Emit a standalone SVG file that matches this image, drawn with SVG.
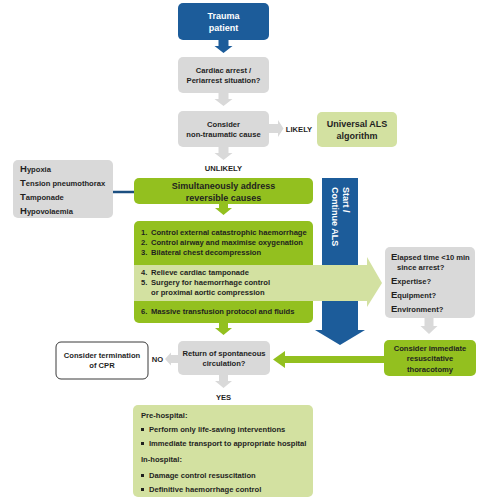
<svg xmlns="http://www.w3.org/2000/svg" width="492" height="502" viewBox="0 0 492 502">
<style>
.t{font-family:"Liberation Sans",Arial,sans-serif;font-weight:bold;fill:#1f1f1f}
.c{text-anchor:middle}
.w{fill:#ffffff}
.gray{fill:#d9d9d9}
.green{fill:#93c01f}
.lgreen{fill:#d3e1a1}
.blue{fill:#1c5c9a}
.s75{font-size:7.6px}
.s8{font-size:8px}
.s9{font-size:9px}
.big{font-size:9.8px}
</style>
<rect width="492" height="502" fill="#ffffff"/>
<g id="connectors">
  <polygon class="blue" points="218.5,40 228.5,40 228.5,46 232.5,46 223.5,53 214.5,46 218.5,46"/>
  <polygon class="gray" points="218.5,93 228.5,93 228.5,99 232.5,99 223.5,106 214.5,99 218.5,99"/>
  <polygon class="gray" points="269,124 278,124 278,120 283.5,128.5 278,137 278,133 269,133"/>
  <polygon class="gray" points="218.5,147 228.5,147 228.5,153 232.5,153 223.5,160 214.5,153 218.5,153"/>
  <line x1="113" y1="192" x2="135" y2="192" stroke="#1c4f80" stroke-width="2.5"/>
  <polygon class="green" points="219,204 228,204 228,208 232,208 223.5,215 215,208 219,208"/>
  <polygon class="blue" points="322,178 358,178 358,330 365,330 340,345 315,330 322,330"/>
  <polygon class="lgreen" points="134,265 367,265 367,257 382,283 367,307 367,301 134,301"/>
  <polygon class="gray" points="424.5,318 433.5,318 433.5,326 437.5,326 429,334 420.5,326 424.5,326"/>
  <polygon class="green" points="219,323 228,323 228,328 232,328 223.5,335 215,328 219,328"/>
  <polygon class="green" points="384,356 285,356 285,351 273,359.5 285,368 285,363 384,363"/>
  <polygon class="gray" points="178,355 171,355 171,352.5 165,359 171,365.5 171,363 178,363"/>
  <polygon class="gray" points="219,375 228,375 228,381 232,381 223.5,388 215,381 219,381"/>
  <text class="t s75 c" x="299" y="131.5">LIKELY</text>
  <text class="t s75 c" x="223.5" y="171">UNLIKELY</text>
  <text class="t s75 c" x="157.5" y="362">NO</text>
  <text class="t s75 c" x="223.5" y="400">YES</text>
</g>
<g id="trauma">
  <rect class="blue" x="178" y="3" width="91" height="37" rx="5"/>
  <text class="t s9 c w" x="223.5" y="19">Trauma</text>
  <text class="t s9 c w" x="223.5" y="31">patient</text>
</g>
<g id="cardiac">
  <rect class="gray" x="178" y="57" width="91" height="36" rx="5"/>
  <text class="t s75 c" x="223.5" y="72.5">Cardiac arrest /</text>
  <text class="t s75 c" x="223.5" y="83">Periarrest situation?</text>
</g>
<g id="nontraumatic">
  <rect class="gray" x="178" y="111" width="91" height="36" rx="5"/>
  <text class="t s75 c" x="223.5" y="126.5">Consider</text>
  <text class="t s75 c" x="223.5" y="137">non-traumatic cause</text>
</g>
<g id="als">
  <rect class="lgreen" x="317" y="112" width="80" height="35" rx="5"/>
  <text class="t s9 c" x="357" y="127">Universal ALS</text>
  <text class="t s9 c" x="357" y="138.5">algorithm</text>
</g>
<g id="causes">
  <rect class="gray" x="13" y="160" width="100" height="58" rx="5"/>
  <text class="t s75" x="20" y="172"><tspan font-size="9.5px">H</tspan>ypoxia</text>
  <text class="t s75" x="20" y="186"><tspan font-size="9.5px">T</tspan>ension pneumothorax</text>
  <text class="t s75" x="20" y="200"><tspan font-size="9.5px">T</tspan>amponade</text>
  <text class="t s75" x="20" y="214"><tspan font-size="9.5px">H</tspan>ypovolaemia</text>
</g>
<g id="address">
  <rect class="green" x="134" y="178" width="179" height="26" rx="5"/>
  <text class="t s9 c" x="223.5" y="189">Simultaneously address</text>
  <text class="t s9 c" x="223.5" y="200.5">reversible causes</text>
</g>
<g id="actions">
  <path class="green" d="M139,221 H308 A5,5 0 0 1 313,226 V265 H134 V226 A5,5 0 0 1 139,221 Z"/>
  <path class="green" d="M134,301 H313 V318 A5,5 0 0 1 308,323 H139 A5,5 0 0 1 134,318 Z"/>
  <text class="t s75" x="141" y="235">1.</text><text class="t s75" x="151" y="235">Control external catastrophic haemorrhage</text>
  <text class="t s75" x="141" y="245">2.</text><text class="t s75" x="151" y="245">Control airway and maximise oxygenation</text>
  <text class="t s75" x="141" y="255">3.</text><text class="t s75" x="151" y="255">Bilateral chest decompression</text>
  <text class="t s75" x="141" y="275">4.</text><text class="t s75" x="151" y="275">Relieve cardiac tamponade</text>
  <text class="t s75" x="141" y="285">5.</text><text class="t s75" x="151" y="285">Surgery for haemorrhage control</text>
  <text class="t s75" x="151" y="295">or proximal aortic compression</text>
  <text class="t s75" x="141" y="314">6.</text><text class="t s75" x="151" y="314">Massive transfusion protocol and fluids</text>
</g>
<g id="startals">
  <text class="t s9 w" transform="translate(343,187) rotate(90)">Start /</text>
  <text class="t s9 w" transform="translate(332,187) rotate(90)">Continue ALS</text>
</g>
<g id="elapsed">
  <rect class="gray" x="385" y="247" width="90" height="71" rx="5"/>
  <text class="t s75" x="391" y="260"><tspan font-size="9.5px">E</tspan>lapsed time &lt;10 min</text>
  <text class="t s75" x="397" y="270">since arrest?</text>
  <text class="t s75" x="391" y="284"><tspan font-size="9.5px">E</tspan>xpertise?</text>
  <text class="t s75" x="391" y="298"><tspan font-size="9.5px">E</tspan>quipment?</text>
  <text class="t s75" x="391" y="312"><tspan font-size="9.5px">E</tspan>nvironment?</text>
</g>
<g id="thoracotomy">
  <rect class="green" x="384" y="340" width="92" height="36" rx="5"/>
  <text class="t s75 c" x="430" y="351">Consider immediate</text>
  <text class="t s75 c" x="430" y="361">resuscitative</text>
  <text class="t s75 c" x="430" y="371.5">thoracotomy</text>
</g>
<g id="rosc">
  <rect class="gray" x="178" y="341" width="92" height="34" rx="5"/>
  <text class="t s75 c" x="224" y="355.5">Return of spontaneous</text>
  <text class="t s75 c" x="224" y="366">circulation?</text>
</g>
<g id="termination">
  <rect x="56" y="342" width="92" height="37" rx="5" fill="#ffffff" stroke="#3a3a3a" stroke-width="1"/>
  <text class="t s75 c" x="102" y="357.5">Consider termination</text>
  <text class="t s75 c" x="102" y="368">of CPR</text>
</g>
<g id="outcome">
  <rect class="lgreen" x="133" y="405" width="180" height="92" rx="5"/>
  <text class="t s75" x="141" y="418">Pre-hospital:</text>
  <rect x="141" y="428" width="3" height="3" fill="#1f1f1f"/>
  <text class="t s75" x="149" y="432">Perform only life-saving interventions</text>
  <rect x="141" y="442" width="3" height="3" fill="#1f1f1f"/>
  <text class="t s75" x="149" y="446">Immediate transport to appropriate hospital</text>
  <text class="t s75" x="141" y="462">In-hospital:</text>
  <rect x="141" y="474" width="3" height="3" fill="#1f1f1f"/>
  <text class="t s75" x="149" y="478">Damage control resuscitation</text>
  <rect x="141" y="488" width="3" height="3" fill="#1f1f1f"/>
  <text class="t s75" x="149" y="492">Definitive haemorrhage control</text>
</g>
</svg>
